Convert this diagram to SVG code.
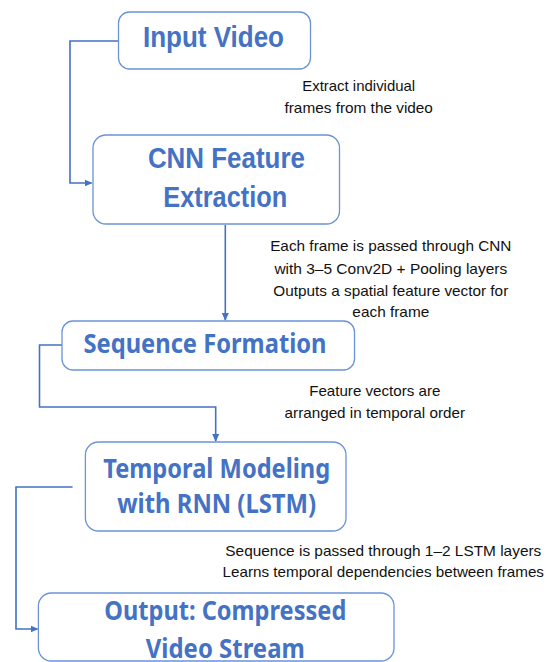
<svg xmlns="http://www.w3.org/2000/svg" width="558" height="662" viewBox="0 0 558 662">
<style>
.box{fill:#fff;stroke:#6a93d8;stroke-width:1.3}
.t1{font-family:"Liberation Sans",Arial,sans-serif;font-weight:bold;font-size:29px;fill:#4472C4;text-anchor:middle}
.t2{font-family:"Noto Sans","Open Sans",sans-serif;font-weight:bold;font-size:27px;fill:#4472C4;text-anchor:middle}
.n{font-family:"Liberation Sans",Arial,sans-serif;font-size:15px;fill:#111;text-anchor:middle}
.c{fill:none;stroke:#4472C4;stroke-width:1.6}
</style>
<defs>
<marker id="ah" markerWidth="8" markerHeight="8" refX="7" refY="4" orient="auto" markerUnits="userSpaceOnUse">
<path d="M0,0.5 L8,4 L0,7.5 z" fill="#4472C4"/>
</marker>
</defs>
<g id="connectors">
<path class="c" d="M118.5,41 H70 V183 H91.5" marker-end="url(#ah)"/>
<path class="c" d="M225.3,225 V320" marker-end="url(#ah)"/>
<path class="c" d="M62,345 H39.5 V407 H215.7 V441" marker-end="url(#ah)"/>
<path class="c" d="M72.6,487 H16 V629 H37.5" marker-end="url(#ah)"/>
</g>
<g id="input-video">
<rect class="box" x="118.5" y="12" width="192" height="57" rx="11"/>
<text class="t1" x="213.5" y="47" textLength="141" lengthAdjust="spacingAndGlyphs">Input Video</text>
</g>
<g id="cnn">
<rect class="box" x="93" y="135" width="246.5" height="89" rx="13"/>
<text class="t1" x="226.4" y="168" textLength="157" lengthAdjust="spacingAndGlyphs">CNN Feature</text>
<text class="t1" x="225.3" y="207" textLength="124" lengthAdjust="spacingAndGlyphs">Extraction</text>
</g>
<g id="sequence">
<rect class="box" x="62" y="321" width="292.5" height="49" rx="11"/>
<text class="t2" x="205" y="353" textLength="243" lengthAdjust="spacingAndGlyphs">Sequence Formation</text>
</g>
<g id="temporal">
<rect class="box" x="85.4" y="442" width="260.6" height="89" rx="13"/>
<text class="t2" x="216.7" y="478" textLength="227" lengthAdjust="spacingAndGlyphs">Temporal Modeling</text>
<text class="t2" x="216.7" y="513" textLength="199" lengthAdjust="spacingAndGlyphs">with RNN (LSTM)</text>
</g>
<g id="output">
<rect class="box" x="38.4" y="593" width="355.6" height="68" rx="13"/>
<text class="t2" x="225.3" y="620" textLength="242" lengthAdjust="spacingAndGlyphs">Output: Compressed</text>
<text class="t2" x="225.3" y="658" textLength="159" lengthAdjust="spacingAndGlyphs">Video Stream</text>
</g>
<g id="notes">
<text class="n" x="358.7" y="91" textLength="113" lengthAdjust="spacingAndGlyphs">Extract individual</text>
<text class="n" x="358.7" y="113" textLength="148.4" lengthAdjust="spacingAndGlyphs">frames from the video</text>
<text class="n" x="390.8" y="251" textLength="241.3" lengthAdjust="spacingAndGlyphs">Each frame is passed through CNN</text>
<text class="n" x="390.8" y="274" textLength="232.8" lengthAdjust="spacingAndGlyphs">with 3–5 Conv2D + Pooling layers</text>
<text class="n" x="390.8" y="296" textLength="234.9" lengthAdjust="spacingAndGlyphs">Outputs a spatial feature vector for</text>
<text class="n" x="390.8" y="317" textLength="76.9" lengthAdjust="spacingAndGlyphs">each frame</text>
<text class="n" x="374.8" y="396" textLength="131.3" lengthAdjust="spacingAndGlyphs">Feature vectors are</text>
<text class="n" x="374.8" y="418" textLength="180.4" lengthAdjust="spacingAndGlyphs">arranged in temporal order</text>
<text class="n" x="383.3" y="556" textLength="316" lengthAdjust="spacingAndGlyphs">Sequence is passed through 1–2 LSTM layers</text>
<text class="n" x="383.3" y="577" textLength="321.4" lengthAdjust="spacingAndGlyphs">Learns temporal dependencies between frames</text>
</g>
</svg>
